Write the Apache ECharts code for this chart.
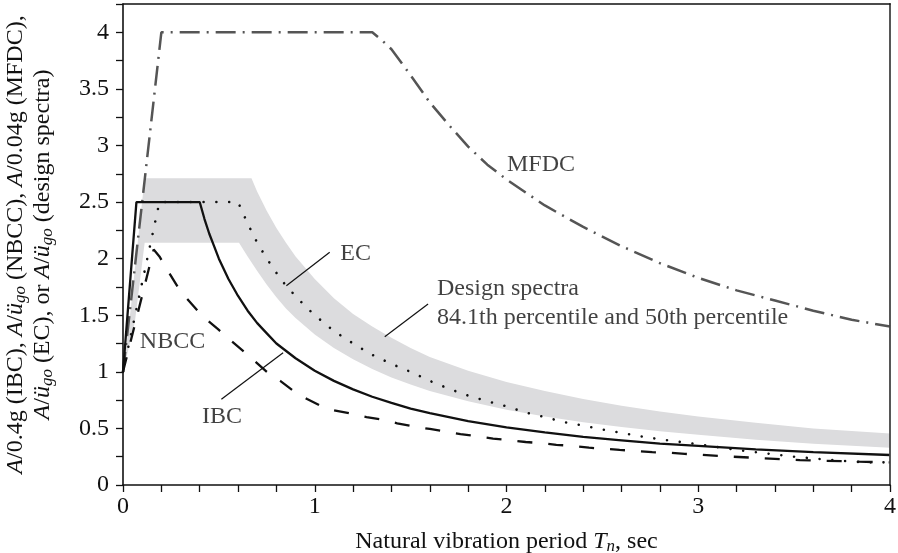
<!DOCTYPE html>
<html><head><meta charset="utf-8">
<script src="https://cdn.jsdelivr.net/npm/echarts@6/dist/echarts.min.js"></script>
<style>html,body{margin:0;padding:0;background:#fff}#c{width:898px;height:553px}</style>
</head><body><div id="c"></div>
<script>
// ---- data ----
const ibcT  = [0, 0.07, 0.40, 0.425, 0.45, 0.475, 0.50, 0.55, 0.60, 0.65, 0.70, 0.75, 0.80, 0.90, 1.00, 1.10, 1.20, 1.30, 1.40, 1.50, 1.60, 1.80, 2.00, 2.20, 2.40, 2.60, 2.80, 3.00, 3.30, 3.60, 4.00];
const ibcA  = [1.00, 2.50, 2.50, 2.35, 2.22, 2.11, 2.00, 1.82, 1.67, 1.54, 1.43, 1.34, 1.25, 1.12, 1.01, 0.92, 0.845, 0.78, 0.725, 0.675, 0.635, 0.565, 0.51, 0.465, 0.425, 0.395, 0.365, 0.345, 0.315, 0.29, 0.265];

const nbccT = [0, 0.16, 0.19, 0.22, 0.30, 0.41, 0.50, 0.56, 0.63, 0.69, 0.75, 0.82, 0.89, 0.96, 1.03, 1.10, 1.19, 1.27, 1.36, 1.43, 1.52, 1.60, 1.69, 1.76, 1.85, 1.93, 2.02, 2.10, 2.18, 2.26, 2.35, 2.43, 2.51, 2.59, 2.68, 2.76, 2.85, 2.93, 3.18, 3.53, 3.84, 4.00];
const nbccA = [1.00, 2.08, 2.02, 1.93, 1.71, 1.50, 1.37, 1.28, 1.18, 1.09, 1.00, 0.92, 0.83, 0.76, 0.70, 0.66, 0.63, 0.60, 0.575, 0.545, 0.515, 0.495, 0.47, 0.45, 0.43, 0.41, 0.395, 0.38, 0.37, 0.355, 0.345, 0.33, 0.32, 0.31, 0.30, 0.29, 0.285, 0.275, 0.25, 0.22, 0.206, 0.20];

const ecT   = [0, 0.19, 0.60, 0.65, 0.70, 0.75, 0.80, 0.85, 0.90, 0.95, 1.00, 1.10, 1.20, 1.30, 1.40, 1.50, 1.60, 1.70, 1.80, 1.90, 2.00, 2.10, 2.20, 2.30, 2.40, 2.50, 2.60, 2.70, 2.80, 2.90, 3.00, 3.20, 3.50, 3.70, 3.87, 4.00];
const ecA   = [1.00, 2.50, 2.50, 2.31, 2.14, 2.00, 1.875, 1.76, 1.67, 1.58, 1.50, 1.36, 1.25, 1.15, 1.07, 1.00, 0.92, 0.85, 0.79, 0.74, 0.695, 0.64, 0.60, 0.555, 0.525, 0.49, 0.46, 0.43, 0.404, 0.382, 0.36, 0.31, 0.25, 0.22, 0.20, 0.20];

const mfdcT = [0, 0.20, 1.30, 1.35, 1.40, 1.50, 1.60, 1.70, 1.80, 1.90, 2.00, 2.20, 2.40, 2.60, 2.80, 3.00, 3.20, 3.40, 3.60, 3.80, 4.00];
const mfdcA = [1.00, 4.00, 4.00, 3.93, 3.85, 3.62, 3.38, 3.18, 2.99, 2.83, 2.70, 2.47, 2.28, 2.11, 1.96, 1.83, 1.72, 1.63, 1.54, 1.46, 1.40];

// design spectra band: 84.1th percentile (upper) and 50th percentile (lower)
const band84T = [0, 0.04, 0.061, 0.085, 0.113, 0.67, 0.70, 0.75, 0.80, 0.85, 0.90, 1.00, 1.10, 1.20, 1.30, 1.40, 1.50, 1.60, 1.80, 2.00, 2.20, 2.40, 2.60, 2.80, 3.00, 3.30, 3.60, 4.00];
const band84A = [1.00, 1.55, 1.90, 2.28, 2.71, 2.71, 2.59, 2.42, 2.27, 2.14, 2.02, 1.82, 1.65, 1.51, 1.40, 1.30, 1.21, 1.13, 1.01, 0.91, 0.83, 0.76, 0.70, 0.65, 0.605, 0.55, 0.50, 0.455];
const band50T = [0, 0.061, 0.113, 0.605, 0.65, 0.70, 0.75, 0.80, 0.85, 0.90, 1.00, 1.10, 1.20, 1.30, 1.40, 1.50, 1.60, 1.80, 2.00, 2.20, 2.40, 2.60, 2.80, 3.00, 3.30, 3.60, 4.00];
const band50A = [1.00, 1.43, 2.14, 2.14, 2.02, 1.89, 1.77, 1.66, 1.56, 1.475, 1.33, 1.21, 1.11, 1.025, 0.95, 0.887, 0.83, 0.74, 0.665, 0.605, 0.555, 0.512, 0.475, 0.443, 0.40, 0.365, 0.33];

// annotation leader lines [T, A] pairs
const leaderEC     = [[1.078, 2.056], [0.852, 1.76]];
const leaderDesign = [[1.591, 1.60], [1.365, 1.31]];
const leaderIBC    = [[0.835, 1.169], [0.513, 0.757]];

// annotation labels
const labelText = ['MFDC', 'EC', 'NBCC', 'IBC', 'Design spectra\n84.1th percentile and 50th percentile'];
const labelPos  = [[2.0, 2.83], [1.131, 2.04], [0.085, 1.266], [0.409, 0.605], [1.635, 1.603]];

const xTicks = [0, 1, 2, 3, 4];
const yTicks = [0, 0.5, 1, 1.5, 2, 2.5, 3, 3.5, 4];

// ---- chart ----
const zip = (t, a) => t.map((v, i) => [v, a[i]]);
const FONT = "'Liberation Serif', 'DejaVu Serif', serif";
const INK = '#111';

const chart = echarts.init(document.getElementById('c'), null, {renderer: 'canvas'});

const richBase = {
  i: {fontStyle: 'italic', fontFamily: FONT, fontSize: 24, color: INK, lineHeight: 27},
  s: {fontStyle: 'italic', fontFamily: FONT, fontSize: 17, color: INK, lineHeight: 17, verticalAlign: 'bottom'}
};

const lineSeries = (name, t, a, style) => ({
  type: 'line', name, data: zip(t, a), symbol: 'none', showSymbol: false,
  lineStyle: style, z: 3, silent: true, animation: false
});

const leader = (d) => ({
  type: 'line', data: d, symbol: 'none', showSymbol: false,
  lineStyle: {color: INK, width: 1.2}, z: 4, silent: true, animation: false
});

chart.setOption({
  animation: false,
  backgroundColor: '#fff',
  grid: {left: 123, right: 8, top: 4, bottom: 68, containLabel: false, outerBoundsMode: 'none'},
  xAxis: [{
    type: 'value', min: 0, max: 4, interval: 0.2, z: 10,
    axisLine: {show: true, lineStyle: {color: INK, width: 1.6}},
    axisTick: {show: true, length: 7, lineStyle: {color: INK, width: 1.3}},
    splitLine: {show: false},
    axisLabel: {
      margin: 10, fontFamily: FONT, fontSize: 24, color: INK,
      formatter: v => { const r = Math.round(v); return (Math.abs(v - r) < 1e-6 && xTicks.includes(r)) ? String(r) : ''; }
    },
    name: 'Natural vibration period {i|T}{s|n}, sec',
    nameLocation: 'middle', nameGap: 43,
    nameTextStyle: {fontFamily: FONT, fontSize: 24, color: INK, lineHeight: 27, rich: richBase}
  }, {
    type: 'value', min: 0, max: 4, position: 'top', z: 10,
    axisLine: {show: true, onZero: false, lineStyle: {color: INK, width: 1.6}},
    axisTick: {show: false}, axisLabel: {show: false}, splitLine: {show: false}
  }],
  yAxis: [{
    type: 'value', min: 0, max: 4.25, interval: 0.25, z: 10,
    axisLine: {show: true, lineStyle: {color: INK, width: 1.6}},
    axisTick: {show: true, length: 7, lineStyle: {color: INK, width: 1.3}},
    splitLine: {show: false},
    axisLabel: {
      margin: 14, fontFamily: FONT, fontSize: 24, color: INK,
      formatter: v => { const h = Math.round(v * 2) / 2; return (Math.abs(v - h) < 1e-6 && yTicks.includes(h)) ? String(h) : ''; }
    },
    name: '{i|A}/0.4g (IBC), {i|A}/{i|ü}{s|go} (NBCC), {i|A}/0.04g (MFDC),\n{i|A}/{i|ü}{s|go} (EC), or {i|A}/{i|ü}{s|go} (design spectra)',
    nameLocation: 'middle', nameRotate: 90, nameGap: 67,
    nameTextStyle: {fontFamily: FONT, fontSize: 24, color: INK, lineHeight: 27, rich: richBase}
  }, {
    type: 'value', min: 0, max: 4.25, position: 'right', z: 10,
    axisLine: {show: true, onZero: false, lineStyle: {color: '#444', width: 1.8}},
    axisTick: {show: false}, axisLabel: {show: false}, splitLine: {show: false}
  }],
  series: [
    {type: 'line', data: zip(band84T, band84A), symbol: 'none', lineStyle: {width: 0},
     areaStyle: {color: '#dcdcde', opacity: 1}, z: 1, silent: true},
    {type: 'line', data: zip(band50T, band50A), symbol: 'none', lineStyle: {width: 0},
     areaStyle: {color: '#ffffff', opacity: 1}, z: 1, silent: true},
    lineSeries('MFDC', mfdcT, mfdcA, {color: '#555', width: 2.5, type: [20, 7, 2, 7], cap: 'butt'}),
    lineSeries('EC', ecT, ecA, {color: INK, width: 2.6, type: [0.01, 12.8], cap: 'round'}),
    lineSeries('NBCC', nbccT, nbccA, {color: INK, width: 2.3, type: [15, 16], cap: 'butt'}),
    lineSeries('IBC', ibcT, ibcA, {color: INK, width: 2.3, type: 'solid'}),
    leader(leaderEC), leader(leaderDesign), leader(leaderIBC),
    {
      type: 'scatter', symbolSize: 1, itemStyle: {color: 'rgba(0,0,0,0)'}, z: 5, silent: true,
      data: labelPos.map((p, i) => ({value: p, name: labelText[i]})),
      label: {show: true, position: 'right', distance: 0, formatter: p => p.name,
        fontFamily: FONT, fontSize: 24, color: INK, lineHeight: 29, align: 'left'}
    }
  ]
});
</script></body></html>
